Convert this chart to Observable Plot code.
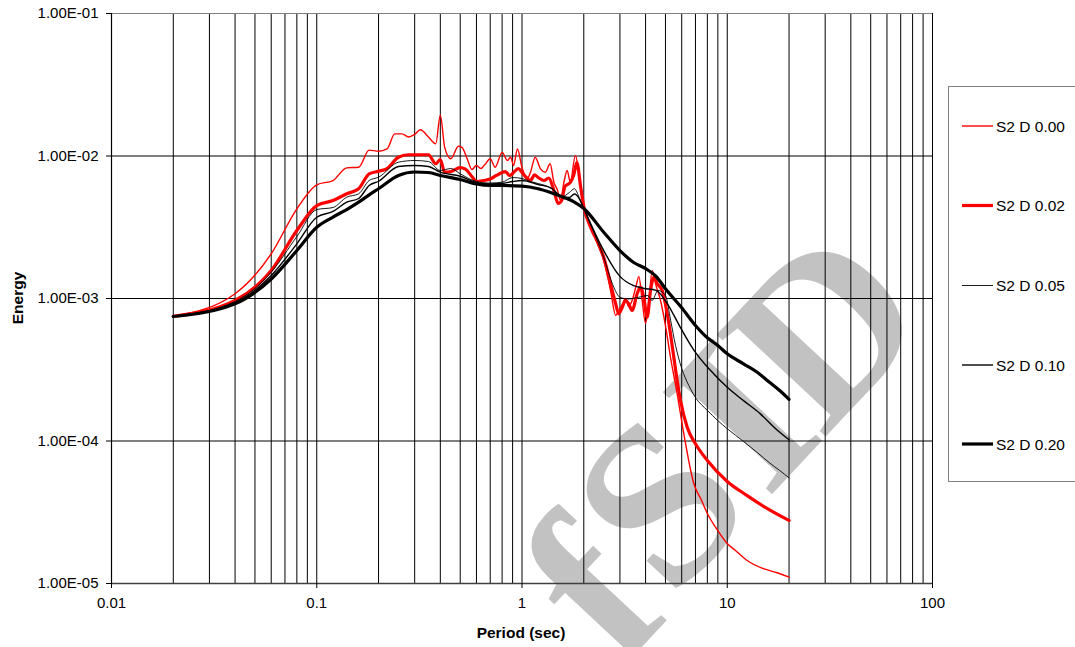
<!DOCTYPE html>
<html>
<head>
<meta charset="utf-8">
<script src="https://cdn.jsdelivr.net/npm/d3@7"></script>
<script src="https://cdn.jsdelivr.net/npm/@observablehq/plot@0.6"></script>
<style>
  html, body { margin: 0; padding: 0; background: #fff; overflow: hidden; }
  #wrap { position: relative; width: 1075px; height: 647px; font-family: "Liberation Sans", Arial, sans-serif; }
  #stamp { position: absolute; left: 0; top: 0; }
  #chart { position: absolute; left: 0; top: 0; }
  #legend { position: absolute; left: 948px; top: 86px; width: 150px; height: 396px; border: 1px solid #808080; background: #fff; box-sizing: border-box; }
  .axis-title { position: absolute; font-weight: bold; font-size: 15.5px; color: #000; white-space: nowrap; }
</style>
</head>
<body>
<div id="wrap">
  <!-- diagonal grey stamp behind the plot -->
  <svg id="stamp" width="1075" height="647" font-family="Liberation Serif, serif" font-weight="bold" font-size="228" fill="#c2c2c2" text-anchor="middle">
    <text x="592" y="590" dy="0.33em" transform="rotate(-47 592 590)">f</text>
    <text x="660" y="503" dy="0.33em" transform="rotate(-47 660 503)">S</text>
    <text x="742" y="416" dy="0.33em" transform="rotate(-47 742 416)">I</text>
    <text x="824" y="328" dy="0.33em" transform="rotate(-47 824 328)">D</text>
  </svg>
  <div id="chart"></div>
  <div id="legend"></div>
  <div class="axis-title" id="xtitle" style="left:521px; top:624px; transform:translateX(-50%);">Period (sec)</div>
  <div class="axis-title" id="ytitle" style="left:18px; top:298px; transform:translate(-50%,-50%) rotate(-90deg);">Energy</div>
</div>
<script>
// Axis ticks
const xTicks = [0.01, 0.1, 1, 10, 100];
const yTicks = [1e-5, 1e-4, 1e-3, 1e-2, 1e-1];

// Series labels and styles
const seriesNames  = ["S2 D 0.00", "S2 D 0.02", "S2 D 0.05", "S2 D 0.10", "S2 D 0.20"];
const seriesColors = ["#ff0000", "#ff0000", "#000000", "#000000", "#000000"];
const seriesWidths = [1.4, 3.2, 0.9, 1.4, 3.2];

// [period (sec), energy] for each damping ratio
const seriesD000 = [
  [0.02,7.5e-4],[0.04,1.08e-3],[0.06,2.06e-3],[0.08,4.26e-3],[0.10,6.28e-3],[0.12,6.73e-3],[0.14,8.26e-3],
  [0.16,8.34e-3],[0.18,1.10e-2],[0.20,1.08e-2],[0.22,1.12e-2],[0.24,1.43e-2],[0.26,1.43e-2],[0.28,1.36e-2],
  [0.30,1.42e-2],[0.32,1.53e-2],[0.35,1.36e-2],[0.38,1.22e-2],[0.40,1.93e-2],[0.42,1.15e-2],[0.45,9.56e-3],
  [0.49,1.17e-2],[0.51,1.15e-2],[0.54,9.6e-3],[0.57,8.04e-3],[0.60,8.58e-3],[0.63,8.17e-3],[0.66,8.72e-3],
  [0.70,9.56e-3],[0.74,8.34e-3],[0.80,1.06e-2],[0.85,9.30e-3],[0.88,9.8e-3],[0.91,8.58e-3],[0.95,1.12e-2],
  [1.00,8.30e-3],[1.06,6.92e-3],[1.10,7.70e-3],[1.16,9.8e-3],[1.23,8.13e-3],[1.30,7.70e-3],[1.37,8.82e-3],
  [1.43,6.55e-3],[1.49,5.73e-3],[1.54,4.87e-3],[1.60,6.52e-3],[1.66,7.91e-3],[1.72,6.52e-3],[1.82,1.01e-2],
  [1.89,7.66e-3],[1.96,5.00e-3],[2.04,4.14e-3],[2.16,3.20e-3],[2.32,2.47e-3],[2.50,1.85e-3],[2.70,1.14e-3],
  [2.86,7.60e-4],[2.96,8.24e-4],[3.08,9.08e-4],[3.19,1.00e-3],[3.31,8.79e-4],[3.44,9.68e-4],[3.60,1.23e-3],
  [3.71,1.43e-3],[3.85,9.68e-4],[4.00,6.68e-4],[4.15,9.68e-4],[4.31,1.57e-3],[4.50,1.23e-3],[4.73,9.68e-4],
  [5.00,6.46e-4],[5.29,3.87e-4],[5.70,2.15e-4],[6.14,1.13e-4],[6.87,5.03e-5],[7.5,3.82e-5],[8.0,3.10e-5],
  [9.0,2.35e-5],[10,1.91e-5],[11,1.70e-5],[12.5,1.45e-5],[15,1.27e-5],[17.5,1.19e-5],[20,1.11e-5]
];
const seriesD002 = [
  [0.02,7.5e-4],[0.04,9.68e-4],[0.06,1.57e-3],[0.08,3.0e-3],[0.10,4.49e-3],[0.12,4.87e-3],[0.14,5.43e-3],
  [0.16,5.89e-3],[0.18,7.5e-3],[0.20,7.82e-3],[0.22,8.17e-3],[0.25,9.81e-3],[0.28,1.02e-2],[0.30,1.02e-2],
  [0.35,1.02e-2],[0.38,8.82e-3],[0.40,9.45e-3],[0.42,7.70e-3],[0.45,7.78e-3],[0.50,8.30e-3],[0.53,8.10e-3],
  [0.57,7.18e-3],[0.60,6.62e-3],[0.65,6.73e-3],[0.70,6.89e-3],[0.75,7.30e-3],[0.79,7.60e-3],[0.83,7.78e-3],
  [0.87,7.30e-3],[0.93,7.91e-3],[0.96,8.17e-3],[1.00,7.66e-3],[1.05,7.06e-3],[1.10,6.73e-3],[1.15,7.36e-3],
  [1.20,7.06e-3],[1.28,6.73e-3],[1.35,7.01e-3],[1.43,5.73e-3],[1.50,4.64e-3],[1.56,4.87e-3],[1.62,6.11e-3],
  [1.72,6.52e-3],[1.79,7.42e-3],[1.85,9.00e-3],[1.93,6.11e-3],[2.00,4.42e-3],[2.16,3.16e-3],[2.32,2.55e-3],
  [2.50,1.95e-3],[2.70,1.27e-3],[2.86,9.18e-4],[2.96,7.81e-4],[3.08,8.69e-4],[3.19,9.68e-4],[3.31,9.18e-4],
  [3.44,8.24e-4],[3.64,1.08e-3],[3.78,1.20e-3],[3.92,1.02e-3],[4.07,7.39e-4],[4.23,1.14e-3],[4.39,1.41e-3],
  [4.56,1.27e-3],[4.82,1.14e-3],[5.10,7.81e-4],[5.29,5.65e-4],[5.49,3.87e-4],[5.70,2.66e-4],[5.92,1.92e-4],
  [6.38,1.25e-4],[7.0,9.56e-5],[8.0,7.30e-5],[10,5.20e-5],[12.5,4.14e-5],[16,3.30e-5],[20,2.77e-5]
];
const seriesD005 = [
  [0.02,7.5e-4],[0.04,9.53e-4],[0.06,1.53e-3],[0.08,2.72e-3],[0.10,4.21e-3],[0.12,4.35e-3],[0.14,5.14e-3],
  [0.16,5.43e-3],[0.18,6.73e-3],[0.20,7.10e-3],[0.25,9.05e-3],[0.30,9.30e-3],[0.35,9.15e-3],[0.40,7.91e-3],
  [0.45,8.17e-3],[0.50,7.50e-3],[0.60,6.62e-3],[0.70,6.46e-3],[0.80,6.55e-3],[0.90,7.06e-3],[1.00,6.95e-3],
  [1.10,6.62e-3],[1.20,6.41e-3],[1.40,5.89e-3],[1.55,5.14e-3],[1.70,5.54e-3],[1.80,5.89e-3],[1.90,5.11e-3],
  [2.00,4.28e-3],[2.50,1.95e-3],[2.80,1.20e-3],[3.00,1.02e-3],[3.30,9.92e-4],[3.70,1.02e-3],[4.10,1.05e-3],
  [4.30,9.68e-4],[4.60,1.14e-3],[5.00,1.05e-3],[5.30,7.01e-4],[5.60,4.68e-4],[6.00,3.23e-4],[6.50,2.45e-4],
  [7.00,2.02e-4],[8.00,1.64e-4],[9.00,1.39e-4],[10,1.22e-4],[12,9.92e-5],[14,8.30e-5],[16,7.06e-5],
  [18,6.21e-5],[20,5.52e-5]
];
const seriesD010 = [
  [0.02,7.5e-4],[0.04,9.37e-4],[0.06,1.45e-3],[0.08,2.42e-3],[0.10,3.72e-3],[0.12,4.08e-3],[0.14,4.74e-3],
  [0.16,5.03e-3],[0.18,6.21e-3],[0.20,6.65e-3],[0.25,8.44e-3],[0.30,8.58e-3],[0.35,8.44e-3],[0.40,7.70e-3],
  [0.50,7.21e-3],[0.60,6.52e-3],[0.70,6.36e-3],[0.80,6.41e-3],[0.90,6.62e-3],[1.00,6.73e-3],[1.20,6.31e-3],
  [1.40,5.91e-3],[1.55,5.20e-3],[1.70,5.11e-3],[1.80,5.41e-3],[1.90,5.03e-3],[2.00,4.28e-3],[2.40,2.43e-3],
  [3.00,1.43e-3],[3.50,1.23e-3],[3.90,1.18e-3],[4.50,1.14e-3],[5.10,9.22e-4],[5.90,6.29e-4],[6.90,4.31e-4],
  [8.30,3.12e-4],[10,2.38e-4],[12,1.92e-4],[14.5,1.55e-4],[17,1.24e-4],[20,1.02e-4]
];
const seriesD020 = [
  [0.02,7.48e-4],[0.04,9.18e-4],[0.06,1.37e-3],[0.08,2.17e-3],[0.10,3.16e-3],[0.12,3.73e-3],[0.14,4.21e-3],
  [0.16,4.74e-3],[0.18,5.34e-3],[0.20,5.89e-3],[0.25,7.30e-3],[0.30,7.72e-3],[0.35,7.66e-3],[0.40,7.30e-3],
  [0.50,6.84e-3],[0.60,6.36e-3],[0.70,6.21e-3],[0.80,6.21e-3],[1.00,6.15e-3],[1.20,5.89e-3],[1.40,5.50e-3],
  [1.60,5.12e-3],[1.80,4.75e-3],[2.00,4.28e-3],[2.5,2.92e-3],[3.0,2.17e-3],[3.5,1.79e-3],[4.0,1.62e-3],
  [4.5,1.43e-3],[5.0,1.17e-3],[6.0,8.61e-4],[7.0,6.47e-4],[8.0,5.30e-4],[9.0,4.68e-4],[10,4.09e-4],
  [12,3.48e-4],[14,3.04e-4],[16,2.59e-4],[18,2.26e-4],[20,1.96e-4]
];

const allSeries = [seriesD000, seriesD002, seriesD005, seriesD010, seriesD020];

// Long-format table for Plot
const rows = allSeries.flatMap((s, i) =>
  s.map(([period, energy]) => ({ series: seriesNames[i], period, energy })));

// Vertical grid at every 1..9 multiple of each decade
const xGrid = [];
for (const dec of [0.01, 0.1, 1, 10]) {
  for (let m = 1; m <= 9; m++) xGrid.push(+(m * dec).toPrecision(3));
}
xGrid.push(100);
const yGrid = [1e-4, 1e-3, 1e-2];

const fmtE = d => {
  const e = Math.round(Math.log10(d));
  return "1.00E" + (e < 0 ? "-" : "+") + String(Math.abs(e)).padStart(2, "0");
};

const chart = Plot.plot({
  width: 1075,
  height: 647,
  marginLeft: 111,
  marginRight: 143,
  marginTop: 13,
  marginBottom: 64,
  style: { fontFamily: "Liberation Sans, Arial, sans-serif", fontSize: "15px", background: "transparent", color: "#000", overflow: "visible" },
  x: { type: "log", domain: [0.01, 100] },
  y: { type: "log", domain: [1e-5, 1e-1] },
  marks: [
    Plot.ruleX(xGrid.filter(v => v > 0.01), { stroke: "#000", strokeWidth: 1 }),
    Plot.ruleY(yGrid, { stroke: "#000", strokeWidth: 1 }),
    Plot.ruleY([1e-1], { stroke: "#808080", strokeWidth: 1 }),
    Plot.ruleY([1e-5], { stroke: "#404040", strokeWidth: 1.5 }),
    Plot.ruleX([0.01], { stroke: "#000", strokeWidth: 1.2 }),
    Plot.axisX({ ticks: xTicks, tickFormat: d => String(d), tickSize: 5, tickPadding: 9, label: null, fontSize: 15 }),
    Plot.axisY({ ticks: yTicks, tickFormat: fmtE, tickSize: 5, tickPadding: 8, label: null, fontSize: 15 }),
    ...seriesNames.map((name, i) =>
      Plot.line(rows.filter(r => r.series === name), {
        x: "period", y: "energy",
        stroke: seriesColors[i], strokeWidth: seriesWidths[i],
        curve: "monotone-x", strokeLinejoin: "round"
      }))
  ]
});
document.getElementById("chart").appendChild(chart);

// Legend box
const legendY = [40, 119.5, 199.5, 279, 358];
const ns = "http://www.w3.org/2000/svg";
const lg = document.createElementNS(ns, "svg");
lg.setAttribute("width", 150);
lg.setAttribute("height", 396);
lg.style.position = "absolute";
lg.style.left = "-1px";
lg.style.top = "-1px";
seriesNames.forEach((name, i) => {
  const ln = document.createElementNS(ns, "line");
  ln.setAttribute("x1", 14); ln.setAttribute("x2", 45);
  ln.setAttribute("y1", legendY[i]); ln.setAttribute("y2", legendY[i]);
  ln.setAttribute("stroke", seriesColors[i]);
  ln.setAttribute("stroke-width", seriesWidths[i]);
  lg.appendChild(ln);
  const tx = document.createElementNS(ns, "text");
  tx.setAttribute("x", 48); tx.setAttribute("y", legendY[i]);
  tx.setAttribute("dy", "0.36em");
  tx.setAttribute("font-size", "15.5px");
  tx.setAttribute("font-family", "Liberation Sans, Arial, sans-serif");
  tx.textContent = name;
  lg.appendChild(tx);
});
document.getElementById("legend").appendChild(lg);
</script>
</body>
</html>
